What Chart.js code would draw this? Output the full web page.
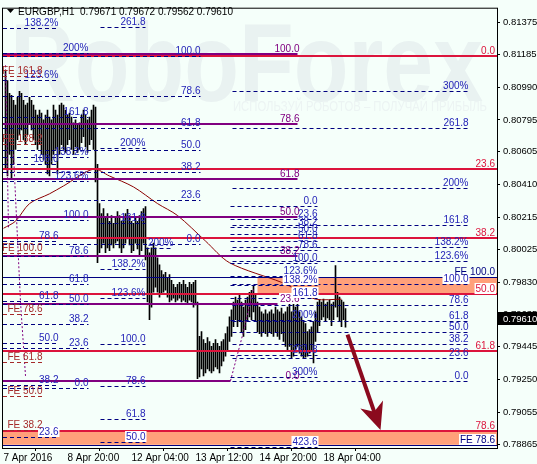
<!DOCTYPE html>
<html>
<head>
<meta charset="utf-8">
<script src="https://cdn.jsdelivr.net/npm/chart.js@4.4.1/dist/chart.umd.min.js"></script>
<style>
  html, body { margin: 0; padding: 0; background: #F5FFFA; }
  canvas { display: block; }
</style>
</head>
<body>
<canvas id="chart" width="537" height="464"></canvas>
<script>
// EURGBP H1 - bars, fibo levels, target zones

const symbol = "EURGBP,H1";
const lastBar = [0.79671, 0.79672, 0.79562, 0.79610]; // open high low close

const highs = [
  0.81088, 0.81029, 0.80953, 0.80941, 0.80912, 0.80883, 0.80929, 0.80965, 0.80953, 0.80912,
  0.80883, 0.80895, 0.80929, 0.80912, 0.80883, 0.80853, 0.80824, 0.80853, 0.80836, 0.80795,
  0.80824, 0.80853, 0.80812, 0.80795, 0.80883, 0.80853, 0.80824, 0.80883, 0.80895, 0.80883,
  0.80853, 0.80824, 0.80836, 0.80812, 0.80777, 0.80795, 0.80766, 0.80777, 0.80824, 0.80853,
  0.80824, 0.80795, 0.80812, 0.80853, 0.80883, 0.80871, 0.80531, 0.80297, 0.80238, 0.80267,
  0.80209, 0.80238, 0.80192, 0.80226, 0.80180, 0.80209, 0.80250, 0.80226, 0.80192, 0.80209,
  0.80238, 0.80262, 0.80226, 0.80192, 0.80180, 0.80215, 0.80192, 0.80226, 0.80250, 0.80267,
  0.80279, 0.80033, 0.80004, 0.80033, 0.80062, 0.80033, 0.79974, 0.79933, 0.79898, 0.79875,
  0.79887, 0.79857, 0.79875, 0.79840, 0.79816, 0.79799, 0.79816, 0.79828, 0.79816, 0.79840,
  0.79816, 0.79799, 0.79828, 0.79816, 0.79828, 0.79840, 0.79711, 0.79506, 0.79535, 0.79488,
  0.79465, 0.79500, 0.79476, 0.79447, 0.79465, 0.79488, 0.79465, 0.79447, 0.79476, 0.79488,
  0.79523, 0.79564, 0.79623, 0.79664, 0.79711, 0.79740, 0.79722, 0.79758, 0.79711, 0.79681,
  0.79722, 0.79740, 0.79769, 0.79781, 0.79810, 0.79758, 0.79711, 0.79681, 0.79652, 0.79640,
  0.79664, 0.79640, 0.79652, 0.79664, 0.79640, 0.79681, 0.79664, 0.79652, 0.79675, 0.79640,
  0.79652, 0.79681, 0.79711, 0.79652, 0.79740, 0.79681, 0.79711, 0.79652, 0.79623, 0.79594,
  0.79582, 0.79535, 0.79547, 0.79564, 0.79594, 0.79652, 0.79711, 0.79722, 0.79711, 0.79728,
  0.79699, 0.79711, 0.79722, 0.79699, 0.79711, 0.79928, 0.79769, 0.79740, 0.79722, 0.79711, 0.79672
];
const lows = [
  0.80502, 0.80461, 0.80590, 0.80443, 0.80531, 0.80619, 0.80678, 0.80707, 0.80736, 0.80678,
  0.80648, 0.80707, 0.80766, 0.80736, 0.80678, 0.80648, 0.80619, 0.80648, 0.80590, 0.80560,
  0.80531, 0.80473, 0.80461, 0.80531, 0.80590, 0.80619, 0.80473, 0.80590, 0.80648, 0.80619,
  0.80601, 0.80648, 0.80678, 0.80619, 0.80590, 0.80636, 0.80601, 0.80619, 0.80660, 0.80695,
  0.80636, 0.80601, 0.80648, 0.80678, 0.80619, 0.80426, 0.79945, 0.80004, 0.80033, 0.80062,
  0.80004, 0.80033, 0.80016, 0.80051, 0.80033, 0.80062, 0.80074, 0.80033, 0.80004, 0.80033,
  0.80062, 0.80086, 0.80051, 0.80004, 0.80016, 0.80062, 0.80027, 0.79992, 0.80016, 0.80062,
  0.79962, 0.79711, 0.79606, 0.79681, 0.79769, 0.79799, 0.79769, 0.79740, 0.79758, 0.79769,
  0.79781, 0.79740, 0.79711, 0.79722, 0.79734, 0.79711, 0.79722, 0.79734, 0.79711, 0.79722,
  0.79711, 0.79699, 0.79722, 0.79711, 0.79681, 0.79693, 0.79254, 0.79265, 0.79312, 0.79271,
  0.79289, 0.79312, 0.79301, 0.79289, 0.79301, 0.79324, 0.79312, 0.79289, 0.79330, 0.79359,
  0.79389, 0.79418, 0.79476, 0.79506, 0.79564, 0.79606, 0.79564, 0.79594, 0.79535, 0.79506,
  0.79547, 0.79594, 0.79623, 0.79606, 0.79652, 0.79594, 0.79535, 0.79523, 0.79506, 0.79535,
  0.79523, 0.79506, 0.79535, 0.79523, 0.79506, 0.79535, 0.79506, 0.79488, 0.79523, 0.79476,
  0.79447, 0.79418, 0.79447, 0.79377, 0.79389, 0.79418, 0.79447, 0.79406, 0.79389, 0.79377,
  0.79383, 0.79389, 0.79406, 0.79418, 0.79348, 0.79476, 0.79535, 0.79570, 0.79606, 0.79623,
  0.79594, 0.79617, 0.79606, 0.79570, 0.79606, 0.79681, 0.79623, 0.79594, 0.79564, 0.79606, 0.79562
];

// moving average, read at a few bars
const maBars = [-1, 5, 12, 22, 29, 44, 52, 64, 76, 86, 100, 112, 138, 146, 155, 168];
const maValues = [0.80150, 0.80192, 0.80297, 0.80355, 0.80402, 0.80502, 0.80461, 0.80396,
                  0.80297, 0.80226, 0.80074, 0.79945, 0.79828, 0.79781, 0.79728, 0.79728];

const timeTicks = [-1, 31, 63, 95, 127, 159];
const timeLabels = ["7 Apr 2016", "8 Apr 20:00", "12 Apr 04:00", "13 Apr 12:00", "14 Apr 20:00", "18 Apr 04:00"];
const priceTicks = [0.81375, 0.81185, 0.80990, 0.80795, 0.80605, 0.80410, 0.80215,
                    0.80025, 0.79830, 0.79635, 0.79445, 0.79250, 0.79055, 0.78865];

// fibo objects
const redNames = ["0.0", "23.6", "38.2", "50.0", "61.8", "78.6"];
const redPrices = [0.81173, 0.80504, 0.80090, 0.79756, 0.79421, 0.78945];

const purpleNames = ["0.0", "23.6", "38.2", "50.0", "61.8", "78.6", "100.0"];
const purplePrices = [0.79242, 0.79701, 0.79985, 0.80215, 0.80445, 0.80772, 0.81188];
const purpleEnds = [112.5, 136, 146, 146, 146, 146, 146];

const rightNames = ["0.0", "23.6", "38.2", "50.0", "61.8", "78.6", "100.0", "123.6%", "138.2%", "161.8", "200%", "261.8", "300%"];
const rightPrices = [0.79242, 0.79378, 0.79462, 0.79530, 0.79597, 0.79694, 0.79817, 0.79953, 0.80037, 0.80172, 0.80392, 0.80747, 0.80967];

const midNames = ["0.0", "23.6", "38.2", "50.0", "61.8", "78.6", "100.0", "123.6%", "138.2%", "161.8", "200%", "261.8", "300%", "423.6"];
const midPrices = [0.80285, 0.80205, 0.80155, 0.80115, 0.80075, 0.80018, 0.79945, 0.79865, 0.79815, 0.79735, 0.79605, 0.79395, 0.79265, 0.78845];

const upperNames = ["0.0", "23.6", "38.2", "50.0", "61.8", "78.6", "100.0"];
const upperPrices = [0.80057, 0.80321, 0.80484, 0.80617, 0.80749, 0.80937, 0.81176];

const leftNames = ["0.0", "23.6", "38.2", "50.0", "61.8", "78.6", "100.0", "123.6%", "138.2%", "161.8", "200%"];
const leftPrices = [0.79201, 0.79436, 0.79581, 0.79699, 0.79817, 0.79984, 0.80197, 0.80432, 0.80577, 0.80813, 0.81193];

const edgeNames = ["23.6", "38.2", "50.0", "61.8", "78.6", "100.0", "123.6%", "138.2%"];
const edgePrices = [0.78906, 0.79217, 0.79468, 0.79718, 0.80076, 0.80531, 0.81033, 0.81344];

const innerNames = ["50.0", "61.8", "78.6", "100.0", "123.6%", "138.2%", "161.8", "200%", "261.8"];
const innerPrices = [0.78876, 0.79014, 0.79209, 0.79459, 0.79734, 0.79905, 0.80180, 0.80625, 0.81346];

const smallNames = ["200%"];
const smallPrices = [0.80033];

const feNames = ["FE 38.2", "FE 50.0", "FE 61.8", "FE 78.6", "FE 100.0", "FE 138.2", "FE 161.8"];
const fePrices = [0.78952, 0.79153, 0.79353, 0.79640, 0.80004, 0.80654, 0.81056];

const targetNames = ["FE 78.6", "FE 100.0"];
const targetPrices = [0.78861, 0.79857];

// target zones
const bandTops = [0.79857, 0.78945];
const bandBottoms = [0.79756, 0.78861];
const bandFrom = [126, -1.25];

// dotted trend lines of the fibo objects
const trend1 = [[0, 0.81120], [1.5, 0.80150]];
const trend2 = [[4, 0.80590], [7.5, 0.79711], [10, 0.79271]];
const trend3 = [[112.5, 0.79242], [119, 0.79535], [124, 0.79787]];

// forecast arrow
const arrowFrom = [171, 0.79517];
const arrowTo = [187.5, 0.78949];

const X_MIN = -1.25, X_MAX = 245.75;

const groups = [
  { names: redNames, prices: redPrices, from: X_MIN, to: X_MAX, label: 244.75, kind: "red" },
  { names: purpleNames, prices: purplePrices, from: X_MIN, to: purpleEnds, label: 147, kind: "purple" },
  { names: rightNames, prices: rightPrices, from: 113.5, to: 231.5, label: 231.5, kind: "navy" },
  { names: midNames, prices: midPrices, from: 112.5, to: 156, label: 156, kind: "navy" },
  { names: upperNames, prices: upperPrices, from: X_MIN, to: 97.5, label: 97.5, kind: "navy" },
  { names: leftNames, prices: leftPrices, from: X_MIN, to: 41.5, label: 41.5, kind: "navy" },
  { names: edgeNames, prices: edgePrices, from: X_MIN, to: 26.5, label: 26.5, kind: "navy" },
  { names: innerNames, prices: innerPrices, from: 47.5, to: 70, label: 70, kind: "navy" },
  { names: smallNames, prices: smallPrices, from: 70, to: 84, label: 84, kind: "navy" },
  { names: feNames, prices: fePrices, from: X_MIN, to: 18.5, label: 18.5, kind: "fe" },
  { names: targetNames, prices: targetPrices, from: X_MIN, to: X_MAX, label: 244.75, kind: "target" }
];

const styles = {
  red:    { line: "#DC143C", width: 2, dash: [], text: "#DC143C" },
  purple: { line: "#800080", width: 2, dash: [], text: "#800080" },
  navy:   { line: "#000080", width: 1, dash: [4, 3], text: "#2424B8" },
  fe:     { line: "#A52A2A", width: 1, dash: [4, 3], text: "#A52A2A" },
  target: { line: "#000080", width: 1, dash: [], text: "#000080" }
};

const LABEL_FONT = '10px "Liberation Sans"';

const chartPlugin = {
  id: "mt4",
  beforeDraw(chart) {
    const { ctx, width, height } = chart;
    ctx.save();
    ctx.fillStyle = "#F5FFFA";
    ctx.fillRect(0, 0, width, height);
    // watermark
    ctx.fillStyle = "#E9F2F1";
    ctx.font = 'bold 112px "Liberation Sans"';
    let w = ctx.measureText("RoboForex").width;
    ctx.save();
    ctx.translate(10, 101);
    ctx.scale(473 / w, 1);
    ctx.fillText("RoboForex", 0, 0);
    ctx.restore();
    const sub = "ИСПОЛЬЗУЙ РОБОТОВ – ПОЛУЧАЙ ПРИБЫЛЬ";
    ctx.fillStyle = "#ECF4F3";
    ctx.font = '14px "Liberation Sans"';
    w = ctx.measureText(sub).width;
    ctx.translate(233, 111);
    ctx.scale(254 / w, 1);
    ctx.fillText(sub, 0, 0);
    ctx.restore();
  },
  beforeDatasetsDraw(chart) {
    const { ctx, chartArea: a, scales: { x, y } } = chart;
    ctx.save();
    ctx.fillStyle = "#FFA07A";
    bandTops.forEach((t, k) => {
      const x0 = Math.max(a.left, x.getPixelForValue(bandFrom[k]));
      const y0 = y.getPixelForValue(t), y1 = y.getPixelForValue(bandBottoms[k]);
      ctx.fillRect(x0, y0, a.right - x0, y1 - y0);
    });
    ctx.restore();
  },
  afterDatasetsDraw(chart) {
    const { ctx, chartArea: a, scales: { x, y } } = chart;
    const bands = bandTops.map((t, k) => ({
      x0: x.getPixelForValue(bandFrom[k]), x1: a.right,
      y0: y.getPixelForValue(t), y1: y.getPixelForValue(bandBottoms[k])
    }));
    ctx.save();
    ctx.beginPath();
    ctx.rect(a.left, a.top, a.width, a.height);
    ctx.clip();

    const labels = [];
    groups.forEach(g => {
      const st = styles[g.kind];
      g.prices.forEach((p, k) => {
        const end = Array.isArray(g.to) ? g.to[k] : g.to;
        const x0 = Math.max(a.left, x.getPixelForValue(g.from));
        const x1 = Math.min(a.right, x.getPixelForValue(end));
        const py = Math.round(y.getPixelForValue(p));
        ctx.strokeStyle = st.line;
        ctx.lineWidth = st.width;
        ctx.setLineDash(st.dash);
        const yy = st.width % 2 ? py + 0.5 : py;
        ctx.beginPath();
        ctx.moveTo(x0, yy);
        ctx.lineTo(x1, yy);
        ctx.stroke();
        labels.push({ text: g.names[k], x: x.getPixelForValue(g.label), y: py - 2, color: st.text });
      });
    });
    ctx.setLineDash([]);

    ctx.font = LABEL_FONT;
    ctx.textAlign = "right";
    ctx.textBaseline = "alphabetic";
    labels.forEach(l => {
      const w = ctx.measureText(l.text).width;
      const r = { x0: l.x - w - 1, x1: l.x + 1, y0: l.y - 9, y1: l.y + 2 };
      const over = bands.some(b => r.x1 > b.x0 && r.x0 < b.x1 && r.y1 > b.y0 + 1 && r.y0 < b.y1 - 1);
      if (over) {
        ctx.fillStyle = "#FFFFFF";
        ctx.fillRect(r.x0, r.y0, r.x1 - r.x0, r.y1 - r.y0);
      }
      ctx.fillStyle = l.color;
      ctx.fillText(l.text, l.x, l.y);
    });

    // arrow
    const ax0 = x.getPixelForValue(arrowFrom[0]), ay0 = y.getPixelForValue(arrowFrom[1]);
    const ax1 = x.getPixelForValue(arrowTo[0]), ay1 = y.getPixelForValue(arrowTo[1]);
    const ang = Math.atan2(ay1 - ay0, ax1 - ax0);
    const cs = Math.cos(ang), sn = Math.sin(ang);
    const headLen = 27, headW = 12;
    ctx.strokeStyle = "#8B0A1E";
    ctx.fillStyle = "#8B0A1E";
    ctx.lineWidth = 4;
    ctx.beginPath();
    ctx.moveTo(ax0, ay0);
    ctx.lineTo(ax1 - cs * headLen * 0.7, ay1 - sn * headLen * 0.7);
    ctx.stroke();
    const bx = ax1 - cs * headLen, by = ay1 - sn * headLen;
    ctx.beginPath();
    ctx.moveTo(ax1, ay1);
    ctx.lineTo(bx - sn * headW, by + cs * headW);
    ctx.lineTo(ax1 - cs * headLen * 0.72, ay1 - sn * headLen * 0.72);
    ctx.lineTo(bx + sn * headW, by - cs * headW);
    ctx.closePath();
    ctx.fill();
    ctx.restore();
  },
  afterDraw(chart) {
    const { ctx, chartArea: a, scales: { y }, width } = chart;
    ctx.save();
    // frame
    ctx.strokeStyle = "#000";
    ctx.lineWidth = 1;
    ctx.strokeRect(a.left - 0.5, a.top - 0.5, a.right - a.left + 1, a.bottom - a.top + 1);
    // title
    ctx.fillStyle = "#000";
    ctx.beginPath();
    ctx.moveTo(7, 9); ctx.lineTo(14, 9); ctx.lineTo(10.5, 13);
    ctx.closePath();
    ctx.fill();
    ctx.font = LABEL_FONT;
    ctx.textBaseline = "alphabetic";
    ctx.textAlign = "left";
    ctx.fillText(symbol + "  " + lastBar.map(v => v.toFixed(5)).join(" "), 18, 15);
    // current price
    const cy = Math.round(y.getPixelForValue(lastBar[3]));
    ctx.fillStyle = "#000";
    ctx.fillRect(a.right + 1, cy - 7, width - a.right - 1, 13);
    ctx.fillStyle = "#FFF";
    ctx.font = '9.5px "Liberation Sans"';
    ctx.textBaseline = "middle";
    ctx.fillText(lastBar[3].toFixed(5), a.right + 6, cy);
    ctx.restore();
  }
};

const barData = highs.map((h, i) => ({ x: i, y: [lows[i], h] }));
const maData = maBars.map((b, i) => ({ x: b, y: maValues[i] }));
const toPts = seg => seg.map(p => ({ x: p[0], y: p[1] }));

const dotted = {
  type: "line", borderColor: "#800080", borderWidth: 1, borderDash: [2, 2],
  pointRadius: 0, fill: false, tension: 0
};

new Chart(document.getElementById("chart").getContext("2d"), {
  type: "bar",
  data: {
    datasets: [
      { type: "bar", data: barData, backgroundColor: "#000", borderWidth: 0, barThickness: 1, order: 3 },
      { type: "line", data: maData, borderColor: "#8B0000", borderWidth: 1, pointRadius: 0, tension: 0.3, order: 2 },
      Object.assign({ data: toPts(trend1), order: 1 }, dotted),
      Object.assign({ data: toPts(trend2), order: 1 }, dotted),
      Object.assign({ data: toPts(trend3), order: 1 }, dotted)
    ]
  },
  options: {
    responsive: false,
    animation: false,
    devicePixelRatio: 1,
    events: [],
    layout: { padding: { left: 3, top: 2 } },
    plugins: { legend: { display: false }, tooltip: { enabled: false } },
    scales: {
      x: {
        type: "linear", min: X_MIN, max: X_MAX, offset: false,
        grid: { drawOnChartArea: false, drawTicks: true, tickLength: 3, color: "#000" },
        border: { display: true, color: "#000" },
        afterBuildTicks: s => { s.ticks = timeTicks.map(v => ({ value: v })); },
        afterFit: s => { s.height = 16; },
        ticks: {
          align: "start", autoSkip: false, maxRotation: 0, padding: 1, color: "#000",
          font: { family: "Liberation Sans", size: 10 },
          callback: v => timeLabels[timeTicks.indexOf(v)]
        }
      },
      y: {
        position: "right", min: 0.78842, max: 0.81457,
        grid: { drawOnChartArea: false, drawTicks: true, tickLength: 3, color: "#000" },
        border: { display: true, color: "#000" },
        afterBuildTicks: s => { s.ticks = priceTicks.map(v => ({ value: v })); },
        afterFit: s => { s.width = 40; },
        ticks: {
          padding: 3, color: "#000",
          font: { family: "Liberation Sans", size: 9.5 },
          callback: v => v.toFixed(5)
        }
      }
    }
  },
  plugins: [chartPlugin]
});
</script>
</body>
</html>
